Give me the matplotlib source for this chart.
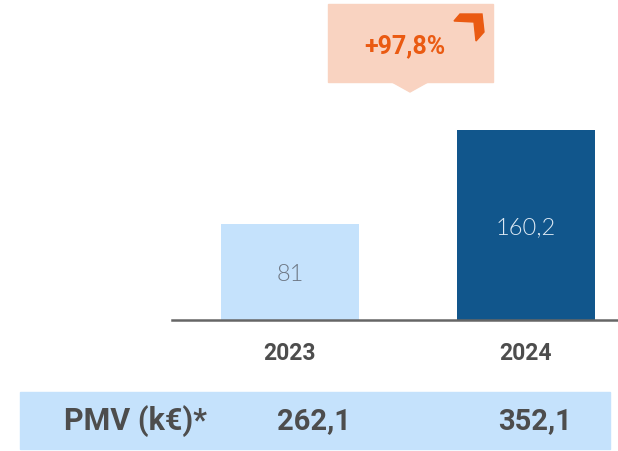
import matplotlib
matplotlib.use("Agg")
from matplotlib import pyplot as plt
from matplotlib.patches import Rectangle, Polygon

# data
years = ['2023', '2024']
values = [81, 160.2]
value_labels = ['81', '160,2']
pmv_label = 'PMV (k€)*'
pmv_values = ['262,1', '352,1']
growth_label = '+97,8%'

bar_colors = ['#c5e2fc', '#11568c']
label_colors = ['#6e7885', '#dce8f3']
text_dark = '#4d4d4d'
orange = '#ea5a12'

W, H = 618, 452
fig = plt.figure(figsize=(W / 100, H / 100), dpi=100)


def fx(px):
    return px / W


def fy(py):
    return 1 - py / H


# bar axes: from x=172 to right edge, baseline at y=321
ax = fig.add_axes([fx(172), fy(321), 1 - fx(172), fy(0) - fy(321)])
ax.bar(range(len(years)), values, width=0.585, color=bar_colors)
ax.set_xlim(-0.5, 1.39)
ax.set_ylim(0, 321 / 1.186)
for s in ['top', 'right', 'left']:
    ax.spines[s].set_visible(False)
ax.spines['bottom'].set_color('#666666')
ax.spines['bottom'].set_linewidth(1.8)
ax.set_yticks([])
ax.set_xticks(range(len(years)))
ax.set_xticklabels(years, fontsize=16.5, fontweight='bold', color=text_dark,
                   family='Roboto')
ax.tick_params(axis='x', length=0, pad=15)

for i, (v, lab) in enumerate(zip(values, value_labels)):
    ax.text(i, v / 2, lab, ha='center', va='center_baseline', fontsize=17,
            family='Lato', fontweight=300, color=label_colors[i])

# callout box with pointer
fig.patches.append(Rectangle((fx(328), fy(83)), fx(493) - fx(328), fy(5) - fy(83),
                             transform=fig.transFigure, color='#f9d3c1', zorder=0))
fig.patches.append(Polygon([(fx(392), fy(83)), (fx(428), fy(83)), (fx(410), fy(93))],
                           transform=fig.transFigure, color='#f9d3c1', zorder=0))
fig.text(fx(405), fy(46), growth_label, ha='center', va='center', fontsize=18,
         fontweight='bold', color=orange, family='Roboto')
arrow_px = [(454, 22), (460, 15), (482, 15), (484, 33), (476, 42), (474, 23)]
fig.patches.append(Polygon([(fx(x), fy(y)) for x, y in arrow_px],
                           transform=fig.transFigure, color=orange, zorder=1))

# bottom band with PMV values
fig.patches.append(Rectangle((fx(20), fy(450)), fx(610) - fx(20), fy(393) - fy(450),
                             transform=fig.transFigure, color='#c5e2fc', zorder=0))
fig.text(fx(135), fy(421), pmv_label, ha='center', va='center', fontsize=22,
         fontweight='bold', color=text_dark, family='Roboto')
for cx, t in zip([314, 535], pmv_values):
    fig.text(fx(cx), fy(421), t, ha='center', va='center', fontsize=21,
             fontweight='bold', color=text_dark, family='Roboto')

fig.savefig('out.png', dpi=100)
